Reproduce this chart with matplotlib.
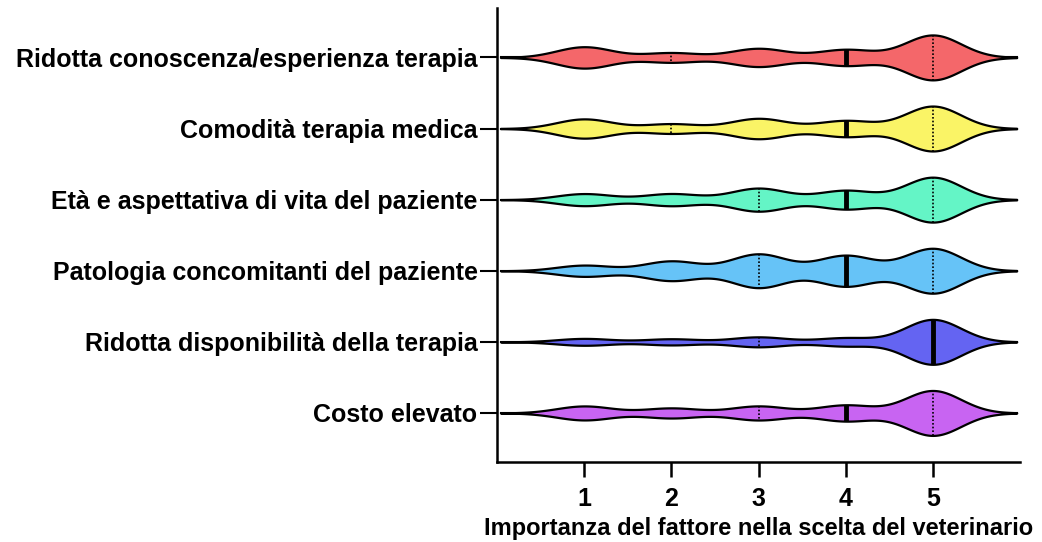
import numpy as np
import matplotlib
matplotlib.use("Agg")
import matplotlib.pyplot as plt

# ---- data (counts of responses per importance score) ----
categories = [
    "Ridotta conoscenza/esperienza terapia",
    "Comodità terapia medica",
    "Età e aspettativa di vita del paziente",
    "Patologia concomitanti del paziente",
    "Ridotta disponibilità della terapia",
    "Costo elevato",
]
scores = [1, 2, 3, 4, 5]
counts_conoscenza = [20, 9, 17, 15, 42]
counts_comodita = [18, 9, 19, 15, 42]
counts_eta = [11, 11, 21, 17, 41]
counts_patologia = [8, 14, 24, 22, 32]
counts_disponibilita = [9, 8, 13, 11, 59]
counts_costo = [14, 10, 14, 16, 45]
all_counts = [counts_conoscenza, counts_comodita, counts_eta,
              counts_patologia, counts_disponibilita, counts_costo]
colors = ["#F4676A", "#FAF466", "#64F5C6", "#66C3F7", "#6464F2", "#C864F2"]
x_ticks = [1, 2, 3, 4, 5]
x_label = "Importanza del fattore nella scelta del veterinario"

plt.rcParams['font.family'] = ['Liberation Sans', 'DejaVu Sans']

fig = plt.figure(figsize=(10.42, 5.42), dpi=100)
ax = fig.add_axes([0.477, 0.1476, 0.502, 0.837])

bw = 0.32
max_half = 0.316

for i, (cnts, col) in enumerate(zip(all_counts, colors)):
    data = np.repeat(scores, cnts)
    xs = np.linspace(data.min() - 3 * bw, data.max() + 3 * bw, 800)
    dens = np.zeros_like(xs)
    for s, c in zip(scores, cnts):
        dens += c * np.exp(-0.5 * ((xs - s) / bw) ** 2)
    w = dens / dens.max() * max_half
    ax.fill_between(xs, i - w, i + w, facecolor=col, edgecolor="black",
                    linewidth=1.6, zorder=2)
    ax.plot(xs, np.full_like(xs, i), color="black", lw=1.5, zorder=1)
    q1, med, q3 = np.percentile(data, [25, 50, 75])
    for q in (q1, q3):
        wq = np.interp(q, xs, w)
        ax.plot([q, q], [i - wq, i + wq], color="black", lw=1.2,
                linestyle=(0, (1, 1.2)), zorder=3)
    wm = np.interp(med, xs, w)
    ax.plot([med, med], [i - wm, i + wm], color="black", lw=3.5,
            solid_capstyle="butt", zorder=4)

ax.set_xlim(0, 6)
ax.set_ylim(len(categories) - 1 + 0.69, -0.69)
ax.set_xticks(x_ticks)
ax.set_xticklabels([str(t) for t in x_ticks], fontsize=18, fontweight="bold")
ax.set_yticks(range(len(categories)))
ax.set_yticklabels(categories, fontsize=18, fontweight="bold")
ax.set_xlabel(x_label, fontsize=17, fontweight="bold", labelpad=4)

for side in ("top", "right"):
    ax.spines[side].set_visible(False)
for side in ("left", "bottom"):
    ax.spines[side].set_linewidth(1.8)
ax.tick_params(axis="y", length=12, width=1.5, pad=2)
ax.tick_params(axis="x", length=11, width=1.8, pad=7)

fig.savefig("out.png", dpi=100)
